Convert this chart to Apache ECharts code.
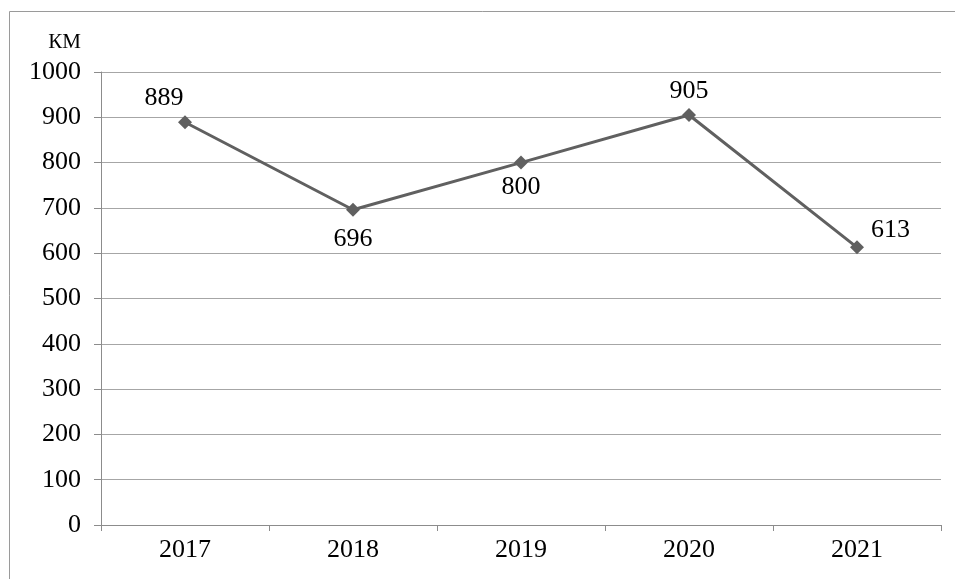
<!DOCTYPE html>
<html>
<head>
<meta charset="utf-8">
<script src="https://cdn.jsdelivr.net/npm/echarts@6/dist/echarts.min.js"></script>
<style>
	html, body { margin: 0; padding: 0; background: #fff; }
	#chart { width: 955px; height: 579px; }
</style>
</head>
<body>
<div id="chart"></div>
<script>
	// данные графика
	const years = ['2017', '2018', '2019', '2020', '2021']
	const values = [889, 696, 800, 905, 613]
	const labelPos = ['top', 'bottom', 'bottom', 'top', 'right']
	const labelShift = [[-21, 0], [0, 0], [0, -4], [0, 0], [0, -17]]
	const labelGap = [4, 9, 9, 4, 7]
	const unitName = 'КМ'

	const font = '"Liberation Serif", "Times New Roman", serif'
	const chart = echarts.init(document.getElementById('chart'))

	const option = {
		animation: false,
		backgroundColor: '#fff',
		grid: { left: 101, right: 14, top: 72, bottom: 54 },
		graphic: [{
			type: 'rect',
			shape: { x: 9.5, y: 11.5, width: 1000, height: 1000 },
			style: { fill: 'none', stroke: '#9a9a9a', lineWidth: 1 }
		}],
		xAxis: {
			type: 'category',
			data: years,
			boundaryGap: true,
			axisLine: { lineStyle: { color: '#8c8c8c', width: 1 } },
			axisTick: { show: true, length: 6, lineStyle: { color: '#8c8c8c' } },
			axisLabel: { color: '#000', fontFamily: font, fontSize: 26, margin: 12 }
		},
		yAxis: {
			type: 'value',
			min: 0,
			max: 1000,
			interval: 100,
			name: unitName,
			nameLocation: 'end',
			nameGap: 19,
			nameTextStyle: { color: '#000', fontFamily: font, fontSize: 21, align: 'right', padding: [0, 20, 0, 0] },
			axisLine: { show: true, lineStyle: { color: '#8c8c8c', width: 1 } },
			axisTick: { show: true, length: 7, lineStyle: { color: '#8c8c8c' } },
			axisLabel: { color: '#000', fontFamily: font, fontSize: 26, margin: 20, formatter: v => String(v) },
			splitLine: { lineStyle: { color: '#a6a6a6', width: 1 } }
		},
		series: [{
			type: 'line',
			data: values.map((v, i) => ({
				value: v,
				label: { position: labelPos[i], offset: labelShift[i], distance: labelGap[i] }
			})),
			symbol: 'diamond',
			symbolSize: 14,
			lineStyle: { color: '#606060', width: 3 },
			itemStyle: { color: '#606060' },
			label: {
				show: true,
				color: '#000',
				fontFamily: font,
				fontSize: 26
			}
		}]
	}
	chart.setOption(option)
</script>
</body>
</html>
